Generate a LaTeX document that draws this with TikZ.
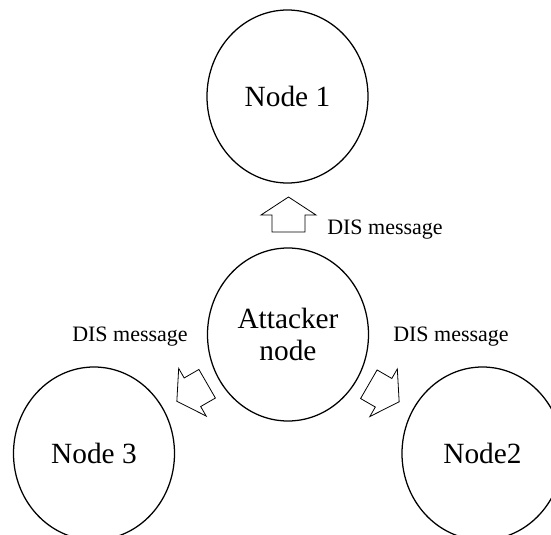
\documentclass[tikz,border=0pt]{standalone}
\usepackage{fontspec}
\setmainfont{Liberation Serif}
\usetikzlibrary{shapes.geometric}
\begin{document}
\begin{tikzpicture}[x=0.75pt,y=-0.75pt,
  peer/.style={ellipse,draw,line width=0.95pt,minimum width=120.75pt,minimum height=129.75pt,inner sep=0pt,
    font=\fontsize{22}{23.5}\selectfont,align=center},
  msg/.style={font=\fontsize{16.5}{19}\selectfont,inner sep=0pt,anchor=base},
  blockarrow/.style={draw,line width=0.6pt,line join=miter,fill=white}]
\useasboundingbox (0,0) rectangle (551,535);
\node[peer] (n1) at (287.5,96.5) {Node 1};
\node[peer] (att) at (288,334.5) {Attacker\\node};
\node[peer] (n3) at (94,453.5) {Node 3};
\node[peer] (n2) at (482.5,453.5) {Node2};
% block arrows (local: pointing +x, centred)
\begin{scope}[shift={(288.5,214.5)},rotate=90]
  \draw[blockarrow] (-17.5,-16.5) -- (-0.5,-16.5) -- (-0.5,-27.5) -- (17.5,0) -- (-0.5,27.5) -- (-0.5,16.5) -- (-17.5,16.5) -- cycle;
\end{scope}
\begin{scope}[shift={(192,392.5)},rotate=210]
  \draw[blockarrow] (-17.5,-16.5) -- (-0.5,-16.5) -- (-0.5,-27.5) -- (17.5,0) -- (-0.5,27.5) -- (-0.5,16.5) -- (-17.5,16.5) -- cycle;
\end{scope}
\begin{scope}[shift={(384,393)},rotate=330]
  \draw[blockarrow] (-17.5,-16.5) -- (-0.5,-16.5) -- (-0.5,-27.5) -- (17.5,0) -- (-0.5,27.5) -- (-0.5,16.5) -- (-17.5,16.5) -- cycle;
\end{scope}
\node[msg,anchor=base west] (m1) at (327,234) {DIS message};
\node[msg] (m3) at (130,341) {DIS message};
\node[msg] (m2) at (451,341) {DIS message};
\end{tikzpicture}
\end{document}
